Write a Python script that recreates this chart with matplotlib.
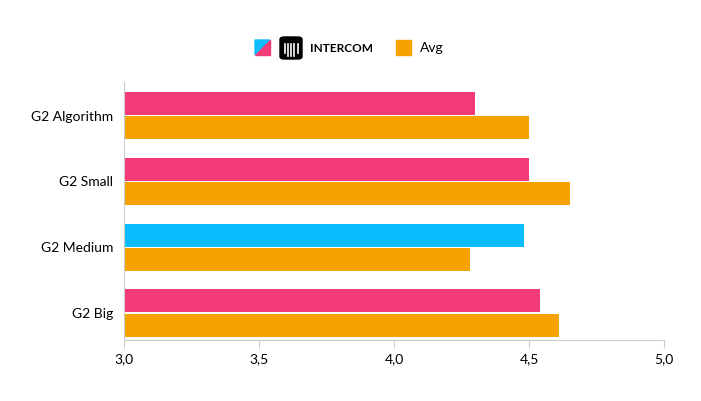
import matplotlib
matplotlib.use("Agg")
import matplotlib.pyplot as plt
from matplotlib.patches import Polygon, Rectangle, FancyBboxPatch
import numpy as np

categories = ["G2 Algorithm", "G2 Small", "G2 Medium", "G2 Big"]
intercom = [4.30, 4.50, 4.48, 4.54]
avg = [4.50, 4.65, 4.28, 4.61]
intercom_colors = ["#f43b7a", "#f43b7a", "#0bbdfc", "#f43b7a"]
ticks = [3.0, 3.5, 4.0, 4.5, 5.0]
tick_labels = ["3,0", "3,5", "4,0", "4,5", "5,0"]

W, H = 701, 401
fig = plt.figure(figsize=(W/100, H/100), dpi=100)
ax = fig.add_axes([124/W, 1-340/H, 540/W, 258/H])
y = np.arange(len(categories))
h = 0.35
ax.barh(y - h/2 - 0.01, np.array(intercom) - 3, left=3, height=h, color=intercom_colors)
ax.barh(y + h/2 + 0.01, np.array(avg) - 3, left=3, height=h, color="#f6a200")
ax.set_xlim(3, 5)
ax.set_ylim(3.41, -0.51)
ax.set_xticks(ticks)
ax.set_xticklabels(tick_labels, fontsize=10, fontfamily="Lato")
ax.set_yticks(y)
ax.set_yticklabels(categories, fontsize=10, fontfamily="Lato")
ax.tick_params(axis="y", length=0, pad=8)
ax.tick_params(axis="x", length=6, color="#ccc", direction="out")
for s in ["top", "right"]:
    ax.spines[s].set_visible(False)
for s in ["left", "bottom"]:
    ax.spines[s].set_color("#ccc")

# legend
def px(x, yy):
    return (x/W, 1-yy/H)
fig.patches.append(Polygon([px(255,40), px(270,40), px(255,55)], closed=True, color="#0bbdfc", transform=fig.transFigure))
fig.patches.append(Polygon([px(270,40), px(270,55), px(255,55)], closed=True, color="#f43b7a", transform=fig.transFigure))
fig.patches.append(FancyBboxPatch(px(280,59), 22/W, 22/H, boxstyle="round,pad=0,rounding_size=0.006", color="black", transform=fig.transFigure))
for i, xx in enumerate(np.linspace(284.5, 297.5, 5)):
    hgt = 9 if i in (0, 4) else 12
    fig.add_artist(plt.Line2D([xx/W, xx/W], [1-(44+hgt)/H, 1-44/H], color="white", lw=1.2, transform=fig.transFigure))
fig.text(310/W, 1-48/H, "INTERCOM", fontsize=8.5, fontweight="bold", fontfamily="Lato", va="center")
fig.patches.append(Rectangle(px(396,55), 15/W, 15/H, color="#f6a200", transform=fig.transFigure))
fig.text(420/W, 1-48/H, "Avg", fontsize=10, fontfamily="Lato", va="center")

fig.savefig("out.png", dpi=100)
